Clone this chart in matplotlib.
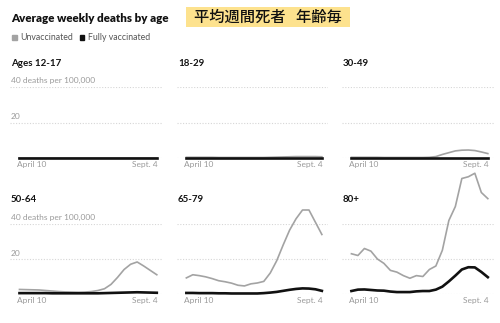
import matplotlib
matplotlib.use('Agg')
import matplotlib.pyplot as plt
import numpy as np

# weekly points, April 10 .. Sept. 4
weeks = np.arange(22)
tick_first = 'April 10'
tick_last = 'Sept. 4'

titles = ['Ages 12-17', '18-29', '30-49', '50-64', '65-79', '80+']

unvax_12_17 = [0.2, 0.2, 0.2, 0.2, 0.2, 0.2, 0.2, 0.2, 0.2, 0.2, 0.2,
               0.2, 0.2, 0.2, 0.2, 0.2, 0.2, 0.2, 0.2, 0.2, 0.2, 0.2]
vax_12_17 = [0.0] * 22
unvax_18_29 = [0.4, 0.4, 0.4, 0.4, 0.4, 0.3, 0.3, 0.3, 0.3, 0.3, 0.3,
               0.3, 0.3, 0.4, 0.5, 0.6, 0.7, 0.8, 0.8, 0.8, 0.8, 0.7]
vax_18_29 = [0.0] * 22
unvax_30_49 = [0.4, 0.4, 0.4, 0.4, 0.4, 0.3, 0.3, 0.3, 0.3, 0.3, 0.3,
               0.3, 0.4, 0.8, 2.0, 3.0, 4.0, 4.4, 4.5, 4.2, 3.4, 2.5]
vax_30_49 = [0.1] * 22
unvax_50_64 = [2.6, 2.5, 2.4, 2.3, 2.0, 1.7, 1.4, 1.2, 1.1, 1.0, 1.1,
               1.4, 2.0, 3.0, 5.5, 9.5, 14.0, 17.0, 18.3, 16.0, 13.5, 11.0]
vax_50_64 = [0.5, 0.5, 0.5, 0.5, 0.5, 0.4, 0.4, 0.4, 0.4, 0.4, 0.4,
             0.4, 0.4, 0.5, 0.6, 0.7, 0.8, 0.9, 1.0, 0.9, 0.8, 0.7]
unvax_65_79 = [9.2, 11.0, 10.5, 9.8, 8.8, 7.6, 7.0, 6.2, 5.0, 4.6, 5.8,
               6.3, 7.2, 12.0, 19.0, 28.0, 36.5, 43.0, 48.0, 48.0, 41.0, 34.0]
vax_65_79 = [0.6, 0.6, 0.5, 0.5, 0.5, 0.4, 0.4, 0.3, 0.3, 0.3, 0.3,
             0.3, 0.5, 0.8, 1.2, 1.8, 2.4, 2.9, 3.2, 3.1, 2.7, 1.8]
unvax_80 = [23.0, 22.0, 26.0, 24.5, 20.0, 17.5, 13.5, 12.5, 10.5, 9.0, 10.5,
            10.0, 14.0, 16.0, 25.0, 42.0, 50.0, 66.0, 67.0, 69.0, 58.0, 54.5]
vax_80 = [1.7, 2.5, 2.6, 2.3, 2.0, 1.9, 1.4, 1.1, 1.1, 1.1, 1.5,
          1.7, 1.7, 2.5, 4.2, 7.2, 10.5, 14.0, 15.3, 15.2, 12.6, 9.6]

unvax = [unvax_12_17, unvax_18_29, unvax_30_49, unvax_50_64, unvax_65_79, unvax_80]
vax = [vax_12_17, vax_18_29, vax_30_49, vax_50_64, vax_65_79, vax_80]

W, H = 500, 323
fig = plt.figure(figsize=(W / 100, H / 100), dpi=100)
plt.rcParams['font.family'] = ['Lato', 'DejaVu Sans']

gray = '#a3a3a3'
label_c = '#9a9a9a'


def add_ax(x0, y0, x1, y1):
    # pixel box -> figure fraction
    return fig.add_axes([x0 / W, 1 - y1 / H, (x1 - x0) / W, (y1 - y0) / H])


cols = [(10, 163), (177, 328), (342, 494)]
rows = [(87, 158), (224, 294)]

for k in range(6):
    r, c = divmod(k, 3)
    ax = add_ax(cols[c][0], rows[r][0], cols[c][1], rows[r][1])
    ax.set_xlim(-1.45, 21.95)
    ax.set_ylim(0, 40)
    ax.axis('off')
    for g in [0, 20, 40]:
        ax.axhline(g, color='#d6d6d6', lw=0.8, ls=(0, (1, 1.5)), zorder=1)
    ax.plot(weeks, unvax[k], color=gray, lw=1.2, clip_on=False, zorder=3,
            solid_joinstyle='round')
    ax.plot(weeks, vax[k], color='#111111', lw=1.9, clip_on=False, zorder=4,
            solid_joinstyle='round')
    ax.annotate(titles[k], xy=(0, 1), xycoords='axes fraction', xytext=(1, 24),
                textcoords='offset pixels', va='center', ha='left',
                fontsize=7, fontweight='bold', color='#121212')
    ax.annotate(tick_first, xy=(0, 0), xytext=(-2, -3), textcoords='offset pixels',
                ha='left', va='top', fontsize=6, color=label_c)
    ax.annotate(tick_last, xy=(21, 0), xytext=(1, -3), textcoords='offset pixels',
                ha='right', va='top', fontsize=6, color=label_c)
    if c == 0:
        ax.annotate('40 deaths per 100,000', xy=(0, 40), xycoords=('axes fraction', 'data'),
                    xytext=(1, 7), textcoords='offset pixels', ha='left', va='center',
                    fontsize=6, color=label_c)
        ax.annotate('20', xy=(0, 20), xycoords=('axes fraction', 'data'),
                    xytext=(1, 6), textcoords='offset pixels', ha='left', va='center',
                    fontsize=6, color=label_c)

# header
fig.text(11 / W, 1 - 18 / H, 'Average weekly deaths by age', fontsize=8.3,
         fontweight='heavy', color='#121212', va='center', ha='left')
fig.patches.append(plt.Rectangle((12 / W, 1 - 40 / H), 4.5 / W, 4.5 / H,
                                 transform=fig.transFigure, color=gray))
fig.text(20 / W, 1 - 37.5 / H, 'Unvaccinated', fontsize=6.3, color='#555555',
         va='center', ha='left')
fig.patches.append(plt.Rectangle((79.5 / W, 1 - 40 / H), 4.5 / W, 4.5 / H,
                                 transform=fig.transFigure, color='#111111'))
fig.text(88 / W, 1 - 37.5 / H, 'Fully vaccinated', fontsize=6.3, color='#555555',
         va='center', ha='left')

# yellow Japanese label
fig.patches.append(plt.Rectangle((186 / W, 1 - 27 / H), 164 / W, 20 / H,
                                 transform=fig.transFigure, color='#fde28e', lw=0))
fig.text(268 / W, 1 - 17 / H, '平均週間死者   年齢毎', fontsize=11, color='#111111',
         fontweight='medium', va='center', ha='center',
         family=['Noto Sans CJK JP', 'DejaVu Sans'])

fig.savefig('out.png', dpi=100)
